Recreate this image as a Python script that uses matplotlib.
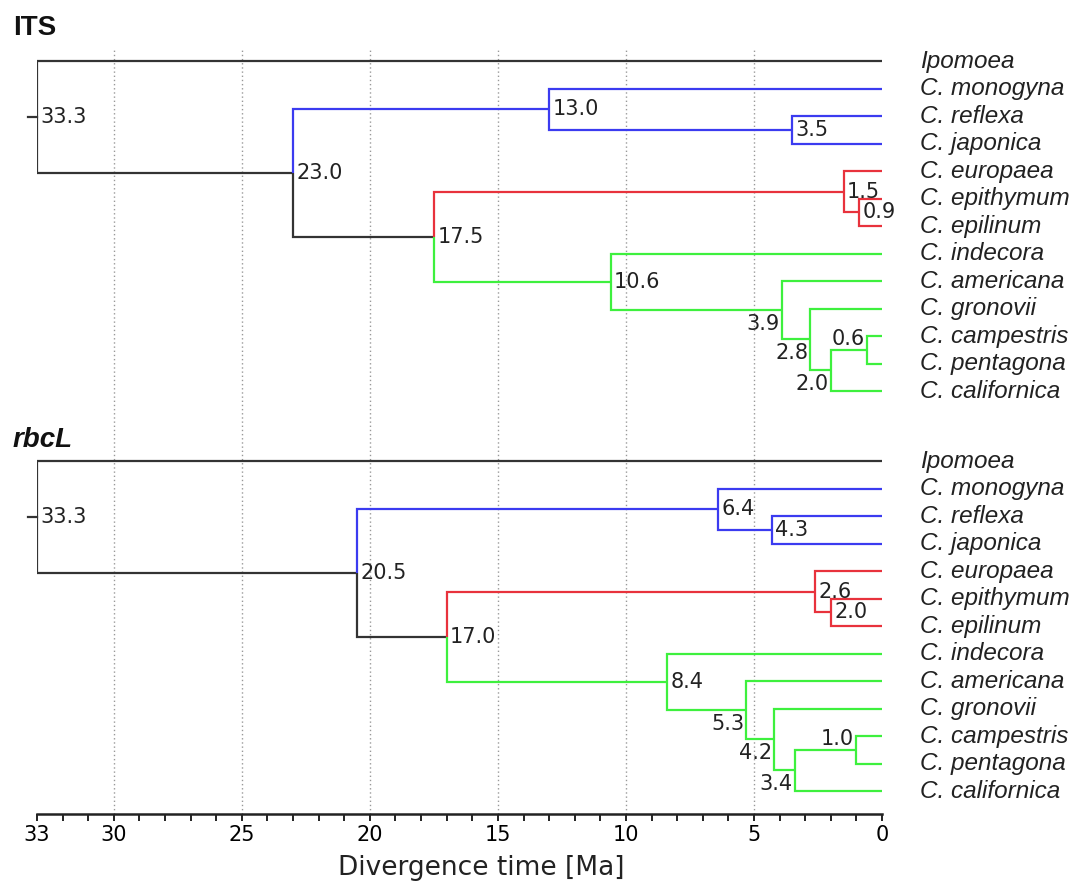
import matplotlib
matplotlib.use("Agg")
import matplotlib.pyplot as plt
from matplotlib.transforms import ScaledTranslation

# ---------------- data ----------------
tips = ["Ipomoea", "C. monogyna", "C. reflexa", "C. japonica", "C. europaea",
        "C. epithymum", "C. epilinum", "C. indecora", "C. americana",
        "C. gronovii", "C. campestris", "C. pentagona", "C. californica"]

# topology shared by both trees (internal node ids -> children; ints are tip indices)
children = {"root": [0, "A"], "A": ["B", "D"], "B": [1, "C"], "C": [2, 3],
            "D": ["E", "G"], "E": [4, "F"], "F": [5, 6], "G": [7, "H"],
            "H": [8, "I"], "I": [9, "J"], "J": ["K", 12], "K": [10, 11]}

its_ages = {"root": 33.3, "A": 23.0, "B": 13.0, "C": 3.5, "D": 17.5, "E": 1.5,
            "F": 0.9, "G": 10.6, "H": 3.9, "I": 2.8, "J": 2.0, "K": 0.6}
rbcl_ages = {"root": 33.3, "A": 20.5, "B": 6.4, "C": 4.3, "D": 17.0, "E": 2.6,
             "F": 2.0, "G": 8.4, "H": 5.3, "I": 4.2, "J": 3.4, "K": 1.0}

panel_titles = ["ITS", "rbcL"]
major_ticks = [33, 30, 25, 20, 15, 10, 5, 0]
grid_ticks = [30, 25, 20, 15, 10, 5]

# ---------------- style ----------------
BLACK = "#333333"
clade_color = {"B": "#3b3bf0", "E": "#e8323c", "G": "#3ef03e"}
label_place = {"H": "bl", "I": "bl", "J": "bl", "K": "al"}
XLEFT = 33.0
ROW_OFFSETS = [0.0, 14.545]

fig = plt.figure(figsize=(10.79, 8.85), dpi=100)
W, H = 1079, 885
ax = fig.add_axes([37 / W, 1 - 814 / H, (882 - 37) / W, (814 - 48) / H])
ax.set_xlim(XLEFT, 0)
ax.set_ylim(27.38, -0.473)

tip_trans = ax.transData + ScaledTranslation(38 / 100, 0, fig.dpi_scale_trans)


def node_color(n, inherited):
    return clade_color.get(n, inherited)


def draw_tree(ages, yoff):
    ypos = {}

    def gety(n):
        if isinstance(n, int):
            ypos[n] = n + yoff
        else:
            ys = [gety(c) for c in children[n]]
            ypos[n] = (ys[0] + ys[-1]) / 2
        return ypos[n]

    gety("root")

    def xof(n):
        return 0.0 if isinstance(n, int) else min(ages[n], XLEFT)

    def draw(n, col):
        x, y = xof(n), ypos[n]
        for c in children[n]:
            cc = col if isinstance(c, int) else node_color(c, col)
            yc = ypos[c]
            ax.plot([x, x, xof(c)], [y, yc, yc], color=cc, lw=1.6,
                    solid_joinstyle="miter", solid_capstyle="butt", zorder=3)
            if not isinstance(c, int):
                draw(c, cc)
        place = label_place.get(n, "r")
        txt = f"{ages[n]:.1f}"
        kw = dict(textcoords="offset points", fontsize=15, color="#222222", zorder=4)
        if place == "r":
            ax.annotate(txt, (x, y), xytext=(2.5, 0), ha="left", va="center", **kw)
        elif place == "bl":
            ax.annotate(txt, (x, y), xytext=(-1.5, -2.5), ha="right", va="top", **kw)
        else:
            ax.annotate(txt, (x, y), xytext=(-1.5, 0.5), ha="right", va="bottom", **kw)

    draw("root", BLACK)
    # root stem
    ax.plot([xof("root"), xof("root") + 0.35], [ypos["root"]] * 2, color=BLACK,
            lw=1.6, clip_on=False, zorder=3)
    for i, name in enumerate(tips):
        ax.text(0, i + yoff, name, transform=tip_trans, ha="left", va="center",
                fontsize=17.5, fontstyle="italic", family="Liberation Sans",
                color="#222222")


for ages, yoff in zip([its_ages, rbcl_ages], ROW_OFFSETS):
    draw_tree(ages, yoff)

# grid
for g in grid_ticks:
    ax.axvline(g, color="#999999", lw=1.0, ls=(0, (1, 2)), zorder=1)

for s in ["top", "left", "right"]:
    ax.spines[s].set_visible(False)
ax.spines["bottom"].set_linewidth(1.8)
ax.spines["bottom"].set_color("#222222")
ax.set_yticks([])
ax.set_xticks(major_ticks)
ax.set_xticklabels([str(t) for t in major_ticks])
ax.set_xticks(range(1, 33), minor=True)
ax.tick_params(axis="x", which="both", direction="out", length=5, width=1.4,
               color="#222222", labelsize=15, pad=3)

fig.text(13 / W, 1 - 28 / H, panel_titles[0], fontsize=20, fontweight="bold",
         family="Liberation Sans", ha="left", va="center", color="#111111")
fig.text(13 / W, 1 - 440 / H, panel_titles[1], fontsize=20, fontweight="bold",
         fontstyle="italic", family="Liberation Sans", ha="left", va="center",
         color="#111111")
fig.text(481 / W, 1 - 868 / H, "Divergence time [Ma]", fontsize=19,
         ha="center", va="center", color="#222222")

fig.savefig("out.png", dpi=100)
